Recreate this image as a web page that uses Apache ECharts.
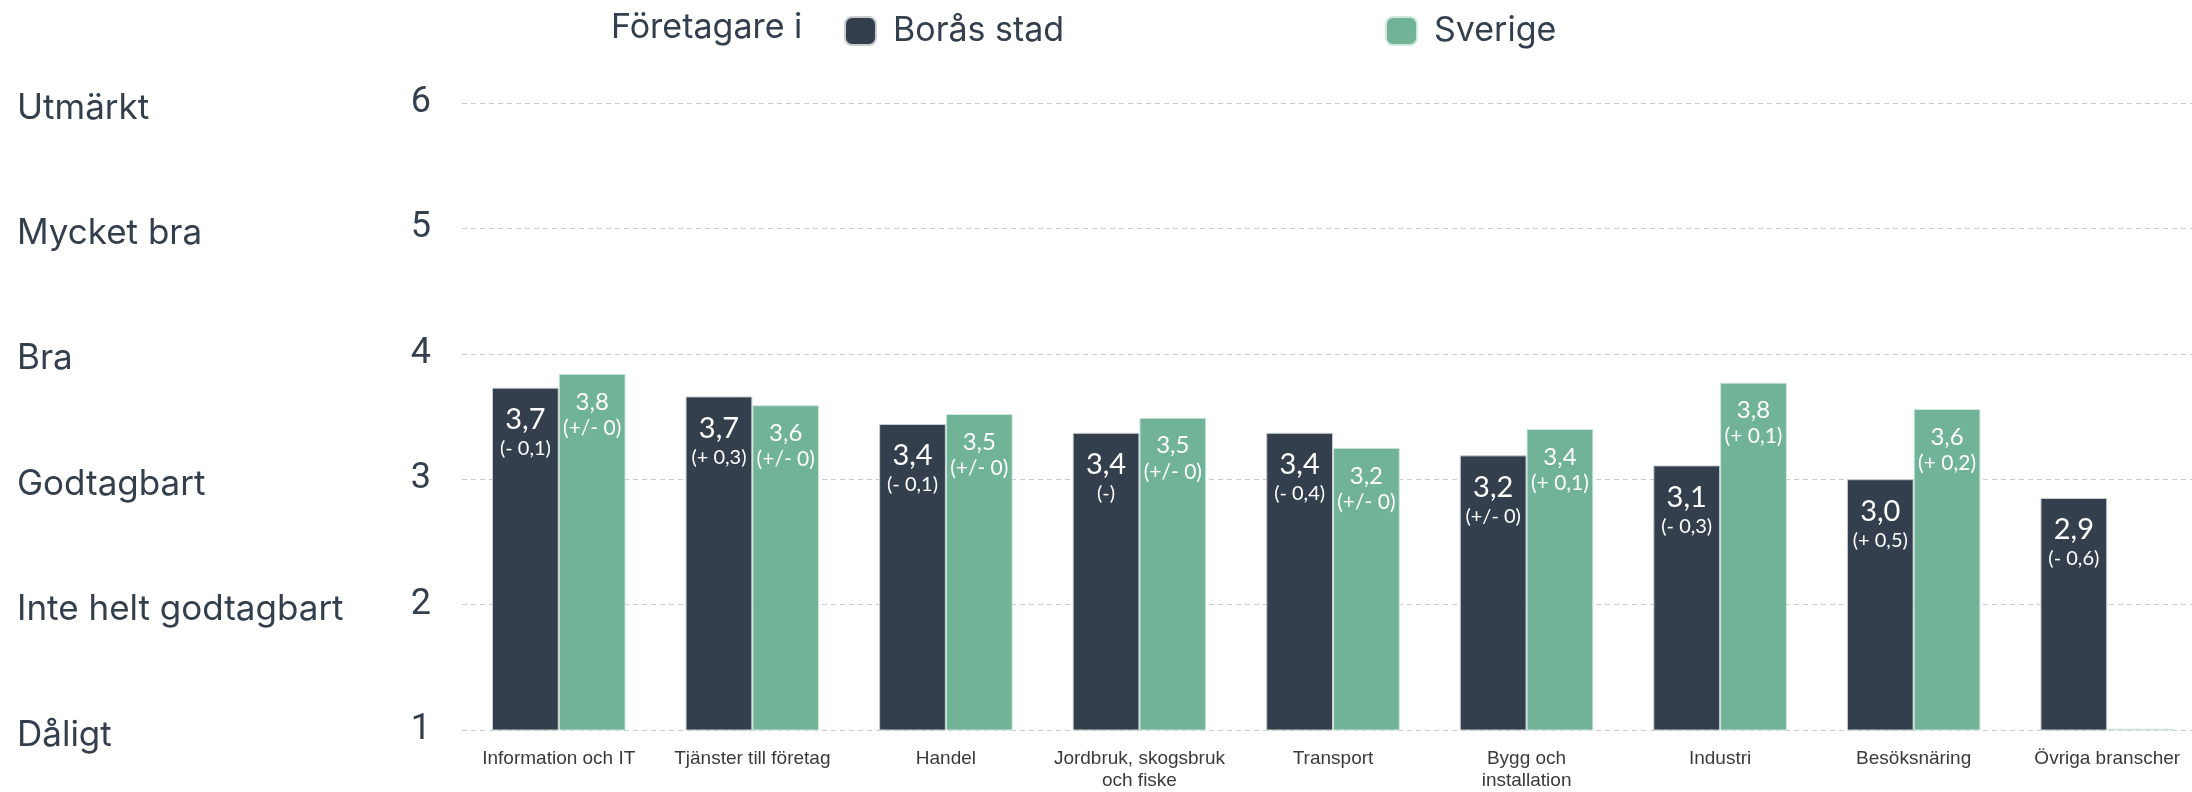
<!DOCTYPE html>
<html>
<head>
<meta charset="utf-8">
<script src="https://cdn.jsdelivr.net/npm/echarts@6/dist/echarts.min.js"></script>
<style>
html,body{margin:0;padding:0;background:#fff;overflow:hidden;}
#chart{width:2212px;height:792px;}
</style>
</head>
<body>
<div id="chart"></div>
<script>
const categories = ['Information och IT','Tjänster till företag','Handel','Jordbruk, skogsbruk\noch fiske','Transport','Bygg och\ninstallation','Industri','Besöksnäring','Övriga branscher'];
const boras = [3.73,3.66,3.44,3.37,3.37,3.19,3.11,3.00,2.85];
const sverige = [3.84,3.59,3.52,3.49,3.25,3.40,3.77,3.56,1.01];
const borasLabels = ['3,7','3,7','3,4','3,4','3,4','3,2','3,1','3,0','2,9'];
const borasChange = ['(- 0,1)','(+ 0,3)','(- 0,1)','(-)','(- 0,4)','(+/- 0)','(- 0,3)','(+ 0,5)','(- 0,6)'];
const sverigeLabels = ['3,8','3,6','3,5','3,5','3,2','3,4','3,8','3,6',''];
const sverigeChange = ['(+/- 0)','(+/- 0)','(+/- 0)','(+/- 0)','(+/- 0)','(+ 0,1)','(+ 0,1)','(+ 0,2)',''];
const yTickNames = {1:'Dåligt',2:'Inte helt godtagbart',3:'Godtagbart',4:'Bra',5:'Mycket bra',6:'Utmärkt'};
const seriesNames = ['Borås stad','Sverige'];

const DARK = '#333f4d';
const GREEN = '#70b396';
const TEXT = '#333f4c';

const chart = echarts.init(document.getElementById('chart'));
const yCommon = {type:'value', min:1, max:6, interval:1};
chart.setOption({
  animation:false,
  backgroundColor:'#fff',
  title:{text:'Företagare i', left:606, top:6,
    textStyle:{fontFamily:'Inter', fontSize:34, fontWeight:'normal', color:TEXT}},
  legend:[
    {data:[seriesNames[0]], left:839, top:9, itemWidth:31, itemHeight:28, icon:'roundRect',
      textStyle:{fontFamily:'Inter', fontSize:34, color:TEXT, padding:[0,0,0,12]}},
    {data:[seriesNames[1]], left:1380, top:9, itemWidth:31, itemHeight:28, icon:'roundRect',
      textStyle:{fontFamily:'Inter', fontSize:34, color:TEXT, padding:[0,0,0,12]}}
  ],
  grid:{left:462, right:8, top:103, bottom:59, containLabel:false},
  xAxis:{type:'category', data:categories,
    axisLine:{show:false}, axisTick:{show:false},
    axisLabel:{fontFamily:'Liberation Sans', fontSize:19, color:'#3a3a3a', margin:18, lineHeight:22, interval:0}},
  yAxis:[
    Object.assign({}, yCommon, {position:'left',
      axisLine:{show:false}, axisTick:{show:false},
      splitLine:{show:true, lineStyle:{type:[5,4], color:'#cccccc', width:1}},
      axisLabel:{fontFamily:'Roboto', fontSize:36, color:TEXT, margin:31}}),
    Object.assign({}, yCommon, {position:'left',
      axisLine:{show:false}, axisTick:{show:false}, splitLine:{show:false},
      axisLabel:{fontFamily:'Inter', fontSize:35, color:TEXT, margin:445, align:'left',
        verticalAlign:'top', lineHeight:10,
        formatter:v=>yTickNames[v]||''}})
  ],
  series:[
    {name:seriesNames[0], type:'bar', data:boras, barGap:'0%', barCategoryGap:'31%',
      itemStyle:{color:DARK, borderColor:'#c9cdd2', borderWidth:1},
      label:{show:true, position:'insideTop', distance:16, color:'#fff',
        formatter:p=>'{v|'+borasLabels[p.dataIndex]+'}\n{c|'+borasChange[p.dataIndex]+'}',
        rich:{v:{fontFamily:'Lato', fontSize:29, lineHeight:32, color:'#fff'},
              c:{fontFamily:'Lato', fontSize:20, lineHeight:26, color:'#fff'}}}},
    {name:seriesNames[1], type:'bar', data:sverige,
      itemStyle:{color:GREEN, borderColor:'#cfe7dc', borderWidth:1},
      label:{show:true, position:'insideTop', distance:14, color:'#fff',
        formatter:p=>sverigeLabels[p.dataIndex] ? '{v|'+sverigeLabels[p.dataIndex]+'}\n{c|'+sverigeChange[p.dataIndex]+'}' : '',
        rich:{v:{fontFamily:'Lato', fontSize:24, lineHeight:28, color:'#fff'},
              c:{fontFamily:'Lato', fontSize:21, lineHeight:24, color:'#fff'}}}}
  ]
});
</script>
</body>
</html>
